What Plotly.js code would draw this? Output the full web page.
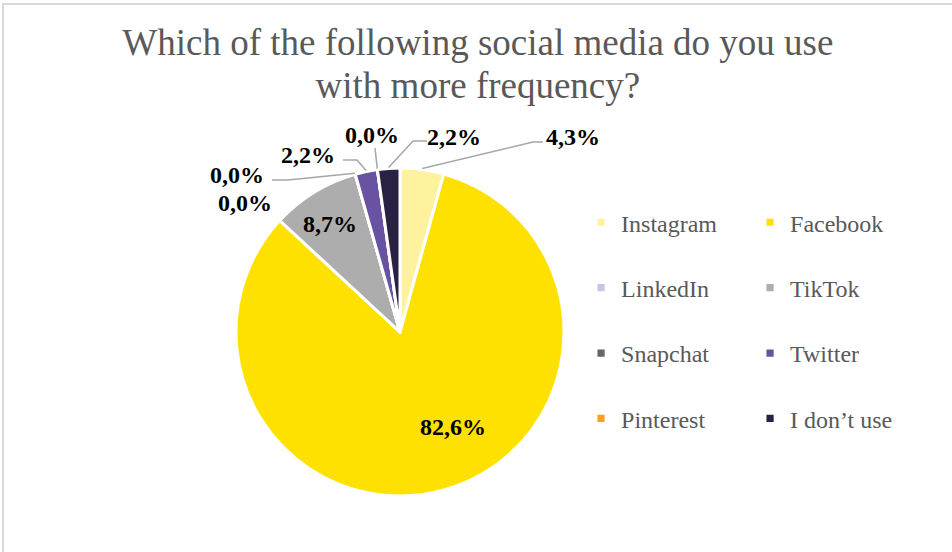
<!DOCTYPE html>
<html>
<head>
<meta charset="utf-8">
<script src="https://cdn.plot.ly/plotly-3.0.1.min.js"></script>
<style>
  html, body { margin: 0; padding: 0; background: #ffffff; }
  #wrap { position: relative; width: 952px; height: 552px; overflow: hidden; }
  #chart { position: absolute; left: 0; top: 0; width: 952px; height: 552px; }
  #frame {
    position: absolute; left: 2px; top: 3px; width: 960px; height: 560px;
    border-left: 2px solid #d9d9d9; border-top: 2px solid #d9d9d9;
    pointer-events: none;
  }
</style>
</head>
<body>
<div id="wrap">
  <div id="chart"></div>
  <div id="frame"></div>
</div>
<script>
// Survey answers: share of respondents (%) per social network
const categories = ['Instagram', 'Facebook', 'LinkedIn', 'TikTok', 'Snapchat', 'Twitter', 'Pinterest', 'I don\u2019t use'];
const shares = [4.3, 82.6, 0.0, 8.7, 0.0, 2.2, 0.0, 2.2];
const sliceColors = ['#FFF29E', '#FFE100', '#CBC3E3', '#ADADAD', '#666666', '#6A52A3', '#F7A21B', '#2B2142'];

const serif = 'Liberation Serif, Times New Roman, serif';

// figure geometry (px)
const W = 952, H = 552;
const margin = { l: 236, r: 388, t: 168, b: 56 };
const plotW = W - margin.l - margin.r;
const plotH = H - margin.t - margin.b;
const cx = margin.l + plotW / 2;
const cy = margin.t + plotH / 2;
const radius = Math.min(plotW, plotH) / 2;

// data-label placement per slice (px): label centre, optional leader elbow and stub end
const labelSpots = [
  { at: [573, 137], elbow: [533, 142], stub: [543, 142] },  // Instagram
  { at: [453, 427] },                                       // Facebook
  { at: [245, 203] },                                       // LinkedIn
  { at: [330, 224] },                                       // TikTok
  { at: [237, 175], elbow: [288, 180], stub: [272, 180] },  // Snapchat
  { at: [308, 155], elbow: [357, 160], stub: [343, 160] },  // Twitter
  { at: [372, 135], elbow: [375, 148], stub: [375, 148] },  // Pinterest
  { at: [454, 137], elbow: [413, 141], stub: [427, 141] }   // I don't use
];

const px2x = px => (px - margin.l) / plotW;
const px2y = py => 1 - (py - margin.t) / plotH;
const fmtPct = v => v.toFixed(1).replace('.', ',') + '%';

// point on the rim at the middle of each slice (clockwise from 12 o'clock)
const total = shares.reduce((a, b) => a + b, 0);
let cum = 0;
const rimPoints = shares.map(v => {
  const mid = (cum + v / 2) / total;
  cum += v;
  const ang = mid * 2 * Math.PI;
  const rr = radius + 1;
  return [cx + rr * Math.sin(ang), cy - rr * Math.cos(ang)];
});

const annotations = shares.map((v, i) => ({
  xref: 'paper', yref: 'paper',
  x: px2x(labelSpots[i].at[0]), y: px2y(labelSpots[i].at[1]),
  xanchor: 'center', yanchor: 'middle',
  text: '<b>' + fmtPct(v) + '</b>',
  showarrow: false,
  font: { family: serif, size: 24, color: '#000000' }
}));

const shapes = [];
labelSpots.forEach((s, i) => {
  if (!s.elbow) return;
  const p0 = rimPoints[i];
  shapes.push({
    type: 'path', xref: 'paper', yref: 'paper',
    path: 'M' + px2x(p0[0]) + ',' + px2y(p0[1]) +
          ' L' + px2x(s.elbow[0]) + ',' + px2y(s.elbow[1]) +
          ' L' + px2x(s.stub[0]) + ',' + px2y(s.stub[1]),
    line: { color: '#A6A6A6', width: 1.5 },
    fillcolor: 'rgba(0,0,0,0)'
  });
});

const trace = {
  type: 'pie',
  labels: categories.map(c => c + '<br> '),
  values: shares,
  sort: false,
  direction: 'clockwise',
  rotation: 0,
  marker: { colors: sliceColors, line: { color: '#ffffff', width: 3 } },
  textinfo: 'none',
  hoverinfo: 'skip',
  automargin: false,
  showlegend: true
};

const layout = {
  width: W,
  height: H,
  margin: margin,
  paper_bgcolor: '#ffffff',
  plot_bgcolor: '#ffffff',
  separators: ',.',
  title: {
    text: '<span style="font-size:37px">Which of the following social media do you use</span><br><span style="font-size:37px">with more frequency?</span>',
    font: { family: serif, size: 33, color: '#595959' },
    xref: 'container', x: 0.502, xanchor: 'center',
    yref: 'container', y: 0.9, yanchor: 'top'
  },
  legend: {
    orientation: 'h',
    entrywidth: 124,
    entrywidthmode: 'pixels',
    x: 1.052, xanchor: 'left',
    y: 0.902, yanchor: 'top',
    valign: 'top',
    font: { family: serif, size: 24, color: '#595959' },
    itemclick: false, itemdoubleclick: false
  },
  annotations: annotations,
  shapes: shapes,
  showlegend: true
};

Plotly.newPlot('chart', [trace], layout, { displayModeBar: false, staticPlot: true }).then(function (gd) {
  // smaller, borderless legend swatches
  gd.querySelectorAll('.legendpoints path').forEach(function (p) {
    const t = p.getAttribute('transform') || '';
    p.setAttribute('transform', t + ' scale(0.6)');
    p.style.strokeWidth = '0';
  });
});
</script>
</body>
</html>
